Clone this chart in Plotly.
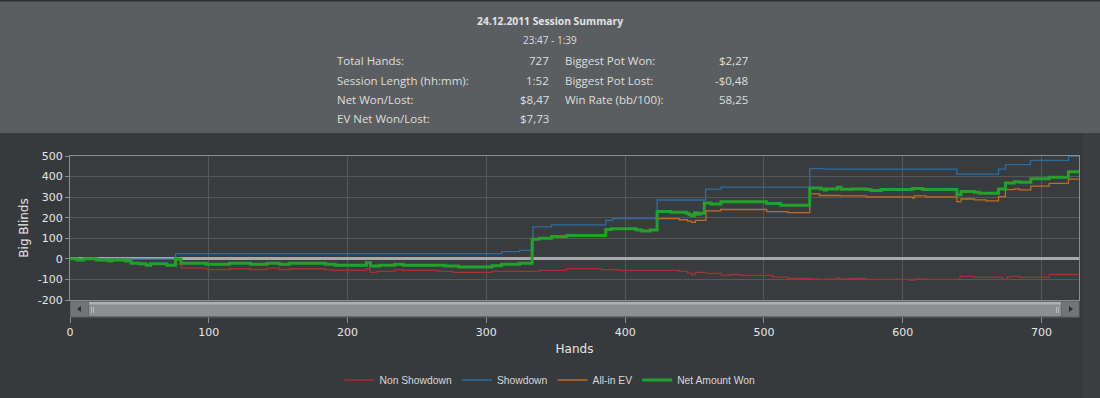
import plotly.graph_objects as go

# ---------------- data (step series: value holds from each hand until the next) ----------------
nsd_hands = [0, 5, 10, 19, 28, 30, 40, 44, 50, 55, 58, 70, 76, 80.4, 98.4, 115, 130, 142, 151, 158,
             183.6, 188.4, 213.6, 216, 220.8, 234, 240, 265, 276, 304, 338.4, 357.6, 382.7, 395,
             439, 445, 448, 450.6, 458.4, 469.2, 476.4, 482.4, 506.4, 517, 533, 540, 544.8, 553,
             554.4, 561.6, 573.6, 604.8, 608.4, 616.8, 641.2, 651.6, 672, 675.5, 679, 684, 705.5, 727]
nsd_values = [0, -6, 0, -5, -11, -5, -11, -21, -24, -31, -24, -31, -26, -45, -52, -48, -52, -45, -52, -48,
              -52, -56, -47, -66, -61, -52, -56, -61, -66, -61, -56, -47, -52, -56,
              -61, -69, -76, -66, -71, -79, -76, -80, -89, -95, -97, -100, -97, -92,
              -97, -95, -100, -105, -97, -100, -85, -90, -100, -88, -85, -90, -76, -76]

sd_hands = [0, 44, 76, 311, 324, 333.6, 347, 386, 391, 423, 458, 469, 533, 543.6, 639, 669, 674, 692, 719.5, 727]
sd_values = [0, -2, 25, 35, 41, 155, 165, 187, 196, 286, 339, 349, 439, 436, 412, 436, 458, 479, 498, 498]

ev_hands = [0, 5, 10, 19, 28, 30, 40, 44, 50, 55, 58, 70, 76, 78, 80, 98, 115, 130, 142, 151, 158,
            184, 191, 213.6, 216.5, 223, 234, 240, 270, 280, 304, 311, 324, 333, 338, 347, 358,
            386, 390, 408, 412, 418, 423, 439, 445, 448, 450.6, 458.2, 468.7, 502, 517, 533, 540,
            555, 573.6, 607, 608.4, 616.8, 639, 642, 651.6, 660, 669, 674, 680.3, 684, 692.3,
            705.5, 719.4, 727]
ev_values = [0, -6, 0, -5, -11, -5, -11, -21, -24, -31, -24, -31, 0, -2, -21, -26, -21, -26, -21, -26, -21,
             -26, -31, -19, -35, -31, -26, -31, -35, -40, -34, -26, -21, 95, 100, 109, 114,
             143, 146, 140, 135, 140, 196, 190, 183, 177, 187, 233, 240, 230, 225, 316, 308,
             306, 301, 295, 306, 301, 278, 291, 287, 282, 303, 337, 340, 335, 354,
             367, 388, 388]

net_hands = [0, 5, 10, 19, 28, 30, 40, 44, 50, 55, 58, 70, 76, 78, 80, 98, 115, 130, 142, 151, 158,
             184, 191, 213.6, 216.5, 223, 234, 240, 270, 280, 304, 311, 324, 333, 338, 347, 358,
             386, 390, 408, 412, 418, 423, 433, 444, 446, 448, 450, 452, 454, 457, 462, 469,
             502, 512, 533, 541, 543.6, 545, 553, 555.6, 564, 573.6, 577, 584.4, 607, 614.3,
             639, 642, 651.6, 655, 669, 674, 680.3, 684, 692.3, 705.5, 719.4, 727]
net_values = [0, -6, 0, -5, -11, -5, -11, -21, -24, -31, -24, -31, 0, -2, -21, -26, -21, -26, -21, -26, -21,
              -26, -31, -19, -35, -31, -26, -31, -35, -40, -34, -26, -21, 95, 100, 109, 114,
              143, 146, 140, 135, 140, 230, 227, 222, 214, 209, 224, 217, 222, 272, 267, 277,
              269, 261, 345, 340, 335, 340, 348, 338, 340, 337, 332, 337, 342, 337,
              312, 328, 324, 319, 340, 369, 375, 372, 389, 397, 423, 423]

series_names = ["Non Showdown", "Showdown", "All-in EV", "Net Amount Won"]
series_colors = ["#a8302e", "#2b6da3", "#c26a22", "#23a12a"]

y_ticks = [-200, -100, 0, 100, 200, 300, 400, 500]
x_ticks = [0, 100, 200, 300, 400, 500, 600, 700]

summary_title = "24.12.2011 Session Summary"
summary_time = "23:47 - 1:39"
left_labels = ["Total Hands:", "Session Length (hh:mm):", "Net Won/Lost:", "EV Net Won/Lost:"]
left_values = ["727", "1:52", "$8,47", "$7,73"]
right_labels = ["Biggest Pot Won:", "Biggest Pot Lost:", "Win Rate (bb/100):"]
right_values = ["$2,27", "-$0,48", "58,25"]

# ---------------- layout helpers (pixel -> paper) ----------------
W, H = 1100, 398
ML, MR, MT, MB = 70, 21, 156, 98
PW = W - ML - MR
PH = H - MT - MB


def px(xp):
    return (xp - ML) / PW


def py(yp):
    return (MT + PH - yp) / PH


fig = go.Figure()
data = [(nsd_hands, nsd_values), (sd_hands, sd_values), (ev_hands, ev_values), (net_hands, net_values)]
widths = [1.3, 1.3, 1.3, 3]
for (hx, hy), name, col, w in zip(data, series_names, series_colors, widths):
    fig.add_trace(go.Scatter(x=hx, y=hy, name=name, mode="lines",
                             line=dict(color=col, width=w, shape="hv")))

shapes = []
# header panel
shapes.append(dict(type="rect", xref="paper", yref="paper", x0=px(0), x1=px(W), y0=py(133), y1=py(0),
                   fillcolor="#5a5e61", line=dict(width=0), layer="below"))
shapes.append(dict(type="rect", xref="paper", yref="paper", x0=px(0), x1=px(W), y0=py(1.5), y1=py(0),
                   fillcolor="#2d3033", line=dict(width=0), layer="below"))
# right side strip
shapes.append(dict(type="rect", xref="paper", yref="paper", x0=px(1083), x1=px(W), y0=py(H), y1=py(133),
                   fillcolor="#3b3e41", line=dict(width=0), layer="below"))
# scrollbar
shapes.append(dict(type="rect", xref="paper", yref="paper", x0=px(70), x1=px(1079.5), y0=py(317.5), y1=py(301),
                   fillcolor="#65686b", line=dict(width=0), layer="above"))
shapes.append(dict(type="rect", xref="paper", yref="paper", x0=px(71), x1=px(88), y0=py(316), y1=py(302),
                   fillcolor="#727578", line=dict(width=0), layer="above"))
shapes.append(dict(type="rect", xref="paper", yref="paper", x0=px(1062), x1=px(1078.5), y0=py(316), y1=py(302),
                   fillcolor="#727578", line=dict(width=0), layer="above"))
shapes.append(dict(type="rect", xref="paper", yref="paper", x0=px(89), x1=px(1061), y0=py(316), y1=py(302),
                   fillcolor="#8c8f92", line=dict(width=0), layer="above"))
shapes.append(dict(type="rect", xref="paper", yref="paper", x0=px(89), x1=px(1061), y0=py(304.5), y1=py(302),
                   fillcolor="#aeb1b4", line=dict(width=0), layer="above"))
for gx in (91.5, 93.5, 1056.5, 1058.5):
    shapes.append(dict(type="line", xref="paper", yref="paper", x0=px(gx), x1=px(gx), y0=py(313), y1=py(307),
                       line=dict(color="#b8bbbe", width=1), layer="above"))
# arrows
shapes.append(dict(type="path", xref="paper", yref="paper",
                   path=f"M {px(77)} {py(309)} L {px(81)} {py(306)} L {px(81)} {py(312)} Z",
                   fillcolor="#2e3032", line=dict(width=0), layer="above"))
shapes.append(dict(type="path", xref="paper", yref="paper",
                   path=f"M {px(1073)} {py(309)} L {px(1069)} {py(306)} L {px(1069)} {py(312)} Z",
                   fillcolor="#2e3032", line=dict(width=0), layer="above"))

annotations = []
hdr_font = "Open Sans, Noto Sans, sans-serif"
annotations.append(dict(text=f"<b>{summary_title}</b>", x=px(550), y=py(21), xref="paper", yref="paper",
                        showarrow=False, xanchor="center", yanchor="middle",
                        font=dict(family=hdr_font, size=10.3, color="#e2e2e2")))
annotations.append(dict(text=summary_time, x=px(550), y=py(40), xref="paper", yref="paper",
                        showarrow=False, xanchor="center", yanchor="middle",
                        font=dict(family=hdr_font, size=10, color="#dcdcdc")))
row_y = [61, 80, 99, 118]
row_font = dict(family=hdr_font, size=11.5, color="#dedede")
for i, (lab, val) in enumerate(zip(left_labels, left_values)):
    annotations.append(dict(text=lab, x=px(335), y=py(row_y[i]), xref="paper", yref="paper", showarrow=False,
                            xanchor="left", yanchor="middle", font=row_font))
    annotations.append(dict(text=val, x=px(551), y=py(row_y[i]), xref="paper", yref="paper", showarrow=False,
                            xanchor="right", yanchor="middle", font=row_font))
for i, (lab, val) in enumerate(zip(right_labels, right_values)):
    annotations.append(dict(text=lab, x=px(563), y=py(row_y[i]), xref="paper", yref="paper", showarrow=False,
                            xanchor="left", yanchor="middle", font=row_font))
    annotations.append(dict(text=val, x=px(750), y=py(row_y[i]), xref="paper", yref="paper", showarrow=False,
                            xanchor="right", yanchor="middle", font=row_font))

axis_font = dict(family="DejaVu Sans, sans-serif", size=11, color="#e6e6e6")
fig.update_layout(
    width=W, height=H,
    margin=dict(l=ML, r=MR, t=MT, b=MB, autoexpand=False),
    paper_bgcolor="#373a3d",
    plot_bgcolor="#393c3f",
    shapes=shapes,
    annotations=annotations,
    showlegend=True,
    legend=dict(orientation="h", x=px(550), xanchor="center", y=py(380), yanchor="middle",
                font=dict(family="Liberation Sans, Arial, sans-serif", size=10.3, color="#d8d8d8"),
                itemwidth=30, bgcolor="rgba(0,0,0,0)", traceorder="normal"),
    xaxis=dict(range=[0, 727], tickvals=x_ticks, ticktext=[str(v) for v in x_ticks],
               showgrid=True, gridcolor="#55585b", gridwidth=1, zeroline=False,
               showline=True, linecolor="#8c8c8c", linewidth=1, mirror=True,
               ticks="outside", ticklen=22, tickcolor="#8c8c8c", tickwidth=1,
               tickfont=axis_font,
               title=dict(text="Hands", font=dict(family="DejaVu Sans, sans-serif", size=12, color="#e6e6e6"),
                          standoff=6)),
    yaxis=dict(range=[-200, 500], tickvals=y_ticks, ticktext=[str(v) for v in y_ticks],
               showgrid=True, gridcolor="#55585b", gridwidth=1,
               zeroline=True, zerolinecolor="#a9a9a9", zerolinewidth=2.5,
               showline=True, linecolor="#8c8c8c", linewidth=1, mirror=True,
               ticks="outside", ticklen=4, tickcolor="#8c8c8c", tickwidth=1,
               tickfont=axis_font,
               title=dict(text="Big Blinds", font=dict(family="DejaVu Sans, sans-serif", size=12, color="#e6e6e6"),
                          standoff=6)),
)

fig.write_html("out.html", config={"displayModeBar": False},
               post_script="document.body.style.margin='0';document.body.style.overflow='hidden';")
